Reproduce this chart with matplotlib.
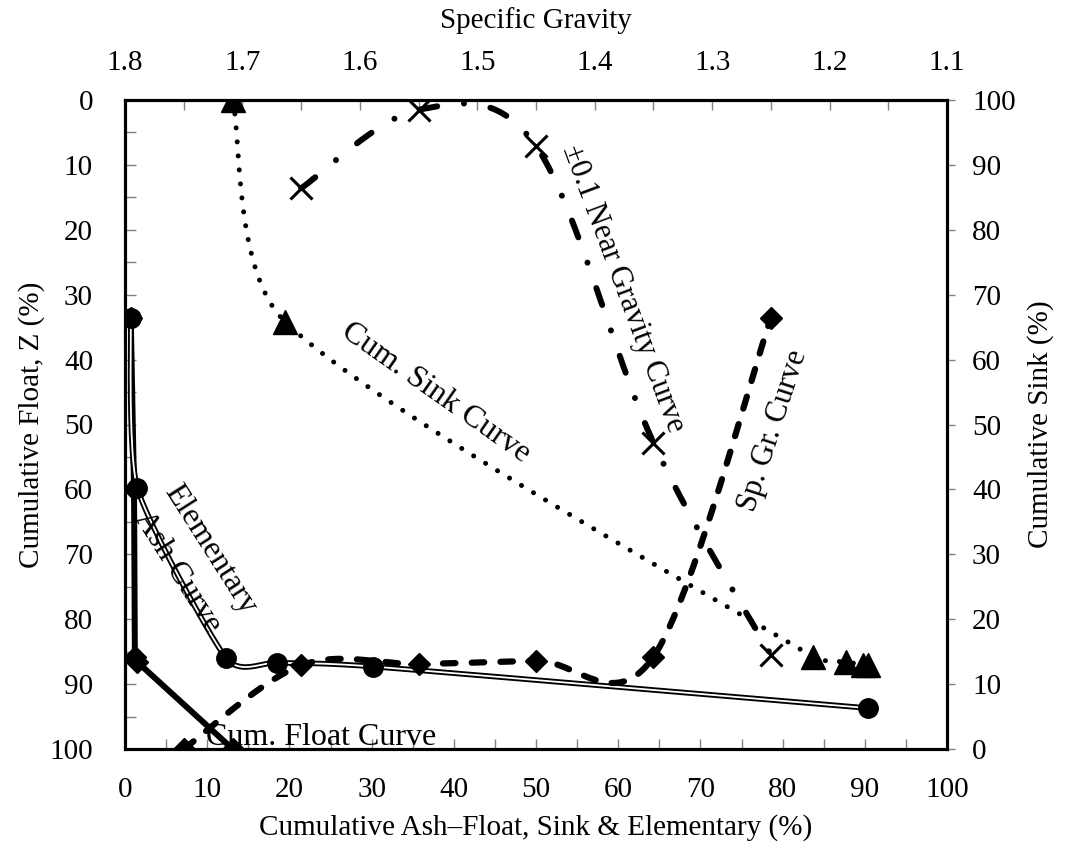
import numpy as np
import matplotlib
matplotlib.use("Agg")
import matplotlib.pyplot as plt
from matplotlib.ticker import MultipleLocator

# ===================== 数据=====================
# 元素灰分曲线 (x: 灰分 %, y: 累计浮物 %)
elem_ash = [0.7, 1.5, 12.3, 18.5, 30.2, 90.4]
elem_float = [33.6, 59.8, 86.0, 86.7, 87.3, 93.7]

# 累计浮物曲线
float_ash = [0.7, 1.1, 1.2, 1.5, 13.1]
float_cum = [33.6, 60.0, 85.8, 86.6, 100.0]

# 累计沉物曲线 (右轴)
sink_ash = [13.1, 19.5, 83.7, 87.7, 89.8, 90.4]
sink_cum = [100.0, 65.8, 14.2, 13.4, 13.0, 13.0]

# 密度曲线 (上轴: 比重, 左轴: 累计浮物)
sg_sg = [1.75, 1.65, 1.55, 1.45, 1.35, 1.25]
sg_float = [100.0, 87.1, 86.9, 86.4, 85.8, 33.6]

# ±0.1 邻近密度物曲线
ng_sg = [1.65, 1.55, 1.45, 1.35, 1.25]
ng_pct = [13.6, 1.5, 7.1, 52.8, 85.5]

X_TICKS = list(range(0, 101, 10))
SG_TICKS = [1.8, 1.7, 1.6, 1.5, 1.4, 1.3, 1.2, 1.1]

plt.rcParams['font.family'] = ['Liberation Serif', 'DejaVu Serif']
FS = 21      # 刻度、坐标轴标题
FS_TXT = 23  # 曲线名称

# 坐标轴在画布上的像素尺寸（平滑曲线在屏幕空间计算，类似Excel）
AX_W, AX_H = 822.0, 649.0


def smooth(xs, ys, x0, x1, y0, y1, k=1.0, weighted=False, n=40):
    """Bezier 平滑（像素空间计算，控制点长度受段长限制），返回数据坐标"""
    kx = AX_W / (x1 - x0)
    ky = AX_H / (y1 - y0)
    p = np.column_stack([(np.asarray(xs, float) - x0) * kx,
                         (np.asarray(ys, float) - y0) * ky])
    p = np.vstack([p[0], p, p[-1]])
    t = np.linspace(0, 1, n)[:, None]
    out = []
    for i in range(1, len(p) - 2):
        p0, p1, p2, p3 = p[i - 1], p[i], p[i + 1], p[i + 2]
        d01 = np.hypot(*(p1 - p0))
        d12 = np.hypot(*(p2 - p1))
        d23 = np.hypot(*(p3 - p2))
        w1, w2 = 0.5, 0.5
        if weighted:
            w1 = min(0.5, d12 / (d01 + d12))
            w2 = min(0.5, d12 / (d12 + d23))
        v1 = (p2 - p0) * w1 * k / 3
        v2 = (p3 - p1) * w2 * k / 3
        lim = 0.6 * d12
        for v in (v1, v2):
            m = np.hypot(*v)
            if m > lim:
                v *= lim / m
        c1 = p1 + v1
        c2 = p2 - v2
        seg = ((1 - t) ** 3 * p1 + 3 * (1 - t) ** 2 * t * c1
               + 3 * (1 - t) * t ** 2 * c2 + t ** 3 * p2)
        out.append(seg if i == 1 else seg[1:])
    out = np.vstack(out)
    return out[:, 0] / kx + x0, out[:, 1] / ky + y0


fig = plt.figure(figsize=(10.68, 8.5), dpi=100)
ax = fig.add_axes([125 / 1068, 1 - 749 / 850, 822 / 1068, 649 / 850])
ax.set_xlim(0, 100)
ax.set_ylim(100, 0)

# 元素灰分曲线：双线
ex, ey = smooth(elem_ash, elem_float, 0, 100, 0, 100, k=0.6)
ax.plot(ex, ey, color='black', lw=4.0, solid_capstyle='round', zorder=3)
ax.plot(ex, ey, color='white', lw=1.3, zorder=4)
ax.plot(elem_ash, elem_float, 'o', color='black', ms=14, zorder=5)

# 累计浮物曲线
ax.plot(float_ash, float_cum, color='black', lw=4.3, marker='D', ms=11, zorder=3)

# 上轴：比重
ax_sg = ax.twiny()
ax_sg.set_xlim(1.8, 1.1)
ax_sg.set_ylim(100, 0)

sx, sy = smooth(sg_sg, sg_float, 1.8, 1.1, 0, 100)
ax_sg.plot(sx, sy, color='black', lw=4.5, linestyle=(0, (2.0, 2.6)),
           dash_capstyle='round', zorder=3)
ax_sg.plot(sg_sg, sg_float, 'D', color='black', ms=11, zorder=4)

nx, ny = smooth(ng_sg, ng_pct, 1.8, 1.1, 0, 100)
ax_sg.plot(nx, ny, color='black', lw=4.3, linestyle=(0, (3.0, 4.5, 0.01, 4.5)),
           dash_capstyle='round', zorder=3)
ax_sg.plot(ng_sg, ng_pct, 'x', color='black', ms=16, mew=2.2, zorder=4)

# 右轴：累计沉物
ax_r = ax.twinx()
ax_r.set_ylim(0, 100)
kx_, ky_ = smooth(sink_ash, sink_cum, 0, 100, 0, 100, weighted=True)
ax_r.plot(kx_, ky_, color='black', lw=3.6, linestyle=(0, (0.01, 2.8)),
          dash_capstyle='round', zorder=3)
ax_r.plot(sink_ash, sink_cum, '^', color='black', ms=17, zorder=4)

# ===================== 刻度与标签 =====================
ax.set_xticks(X_TICKS)
ax.xaxis.set_minor_locator(MultipleLocator(5))
ax.set_yticks(X_TICKS)
ax.yaxis.set_minor_locator(MultipleLocator(5))
ax.tick_params(axis='x', which='both', direction='in', length=7, width=1, color='#808080',
               labelsize=FS, pad=20, top=False)
ax.tick_params(axis='y', which='both', direction='in', length=8, width=1, color='#808080',
               labelsize=FS, pad=23, right=False)

ax_sg.set_xticks(SG_TICKS)
ax_sg.xaxis.set_minor_locator(MultipleLocator(0.05))
ax_sg.tick_params(axis='x', which='both', direction='in', length=7, width=1, color='#808080',
                  labelsize=FS, pad=17)
ax_sg.set_xticklabels([f"{v:.1f}" for v in SG_TICKS])

ax_r.set_yticks(X_TICKS)
ax_r.tick_params(axis='y', direction='out', length=6, width=1, color='#808080',
                 labelsize=FS, pad=12)

for a in (ax, ax_sg, ax_r):
    for s in a.spines.values():
        s.set_linewidth(2.2)
        s.set_color('black')

ax.set_xlabel("Cumulative Ash\u2013Float, Sink & Elementary (%)", fontsize=FS, labelpad=8)
ax.set_ylabel("Cumulative Float, Z (%)", fontsize=FS, labelpad=3)
ax_sg.set_xlabel("Specific Gravity", fontsize=FS, labelpad=16)
ax_r.set_ylabel("Cumulative Sink (%)", fontsize=FS, labelpad=8)

# 曲线名称
tk = dict(ha='center', va='center', rotation_mode='anchor', zorder=6)
ax.text(10.3, 69.3, "Elementary", rotation=-57.5, fontsize=FS_TXT, **tk)
ax.text(6.4, 72.7, "Ash Curve", rotation=-57.5, fontsize=FS_TXT, **tk)
ax.text(23.8, 98.3, "Cum. Float Curve", rotation=0, fontsize=FS_TXT, **tk)
ax.text(37.8, 45.1, "Cum. Sink Curve", rotation=-35, fontsize=FS_TXT, **tk)
ax.text(60.6, 29.0, "\u00b10.1 Near Gravity Curve", rotation=-69.5, fontsize=22, **tk)
ax.text(78.8, 51.0, "Sp. Gr. Curve", rotation=72, fontsize=22, **tk)

fig.savefig("out.png", dpi=100)
